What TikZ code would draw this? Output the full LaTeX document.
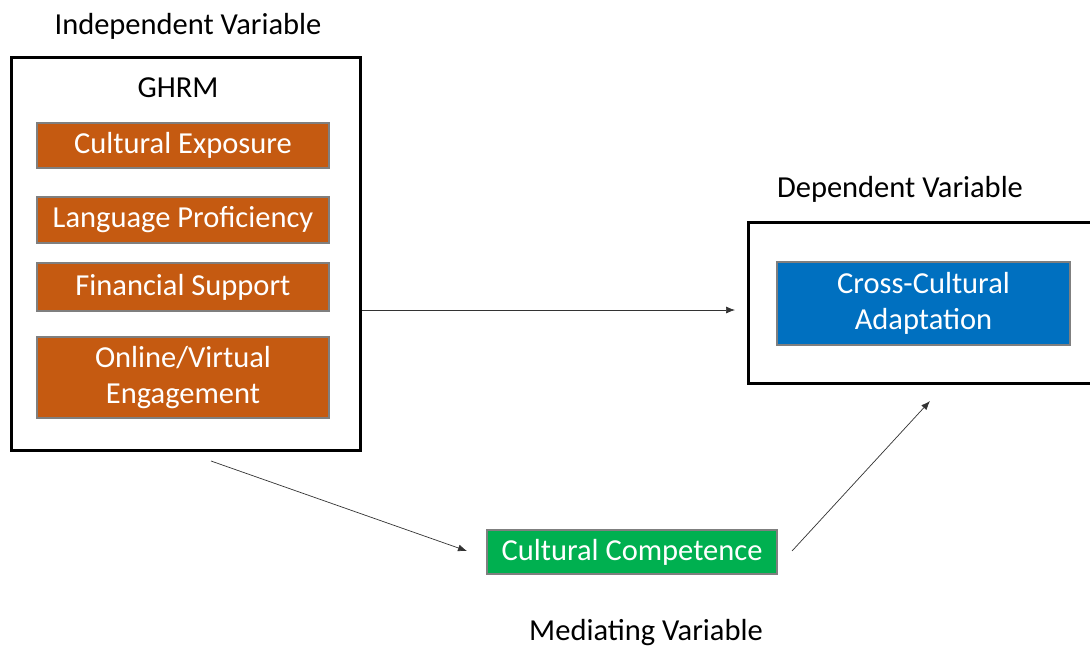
\documentclass[tikz,border=0pt]{standalone}
\usepackage{fontspec}
\setmainfont{Carlito}
\usetikzlibrary{arrows.meta}
\definecolor{ghrmorange}{HTML}{C55A11}
\definecolor{depblue}{HTML}{0070C0}
\definecolor{medgreen}{HTML}{00B050}
\definecolor{edgegray}{HTML}{7F7F7F}
\tikzset{
  frame/.style={draw=black, line width=3pt},
  itembox/.style={draw=edgegray, line width=1.2pt, text=white, font=\fontsize{30.5}{36}\selectfont, align=center, inner sep=0pt},
  caption/.style={font=\fontsize{30.5}{36}\selectfont, text=black},
  link/.style={draw=black!80, line width=0.7pt, -{Latex[length=9pt,width=7pt]}}
}
\begin{document}
\begin{tikzpicture}[x=1pt,y=-1pt]
\useasboundingbox (0,0) rectangle (1090,648);
\clip (0,0) rectangle (1090,648);
\fill[white] (0,0) rectangle (1090,648);

% independent variable block
\node[caption] (ivlabel) at (188,26) {Independent Variable};
\draw[frame] (11,57) rectangle (360,450);
\node[caption] (ghrm) at (178,88) {GHRM};
\node[itembox, fill=ghrmorange, minimum width=292pt, minimum height=45pt] (ce) at (183,145.5) {Cultural Exposure};
\node[itembox, fill=ghrmorange, minimum width=292pt, minimum height=46pt] (lp) at (183,220) {Language Proficiency};
\node[itembox, fill=ghrmorange, minimum width=292pt, minimum height=48pt] (fs) at (183,287) {Financial Support};
\node[itembox, fill=ghrmorange, minimum width=292pt, minimum height=81pt] (ov) at (183,377.5) {Online/Virtual\\Engagement};

% dependent variable block
\node[caption] (dvlabel) at (900,189) {Dependent Variable};
\draw[frame] (748,222) rectangle (1094,383);
\node[itembox, fill=depblue, minimum width=293pt, minimum height=83pt] (cca) at (923.5,303.5) {Cross-Cultural\\Adaptation};

% mediating variable
\node[itembox, fill=medgreen, minimum width=290pt, minimum height=44pt] (cc) at (632,552) {Cultural Competence};
\node[caption] (mvlabel) at (646,633) {Mediating Variable};

% connectors
\coordinate (a1s) at (362,310);
\coordinate (a1e) at (735,310);
\coordinate (a2s) at (211,461);
\coordinate (a2e) at (467,551);
\coordinate (a3s) at (792,551);
\coordinate (a3e) at (930,401);
\draw[link] (a1s) -- (a1e);
\draw[link] (a2s) -- (a2e);
\draw[link] (a3s) -- (a3e);
\end{tikzpicture}
\end{document}
